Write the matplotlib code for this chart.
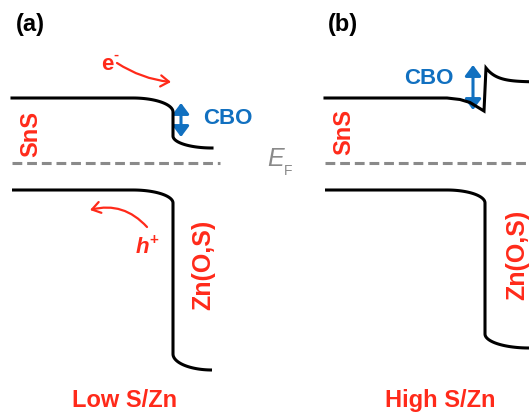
import numpy as np
import matplotlib.pyplot as plt
from matplotlib.patches import FancyArrowPatch

# --- dados do esquema de bandas (unidades ~ pixel, energia para baixo) ---
paineis = ['(a)', '(b)']
rotulos = ['Low S/Zn', 'High S/Zn']
x_inicio = [12, 325]        # início das bandas do SnS
x_curva = [133, 447]        # início da curvatura
x_interface = [173, 485]    # interface SnS / Zn(O,S)
x_fim = [212, 529]          # fim do Zn(O,S)
bc_sns = [98, 98]           # banda de condução SnS
bv_sns = [190, 190]         # banda de valência SnS
bv_dobra = [203, 203]
bv_zn = [370, 348]          # banda de valência Zn(O,S)
bv_zn_dobra = [354, 334]
ef = 163                    # nível de Fermi

vermelho = '#ff2a1a'
azul = '#1170c0'
cinza = '#8a8a8a'


def canto_hv(x0, y0, x1, y1, n=30):
    t = np.linspace(0, np.pi / 2, n)
    return x0 + (x1 - x0) * np.sin(t), y1 - (y1 - y0) * np.cos(t)


def canto_vh(x1, y1, x2, y2, n=30):
    t = np.linspace(0, np.pi / 2, n)
    return x2 - (x2 - x1) * np.cos(t), y1 + (y2 - y1) * np.sin(t)


fig = plt.figure(figsize=(5.29, 4.19), dpi=100)
ax = fig.add_axes([0, 0, 1, 1])
ax.set_xlim(0, 529)
ax.set_ylim(419, 0)
ax.axis('off')

fonte = 'Liberation Sans'
lw = 2.2

for i in range(2):
    # banda de valência
    cx1, cy1 = canto_hv(x_curva[i], bv_sns[i], x_interface[i], bv_dobra[i])
    cx2, cy2 = canto_vh(x_interface[i], bv_zn_dobra[i], x_fim[i], bv_zn[i])
    xs = np.concatenate([[x_inicio[i]], cx1, cx2])
    ys = np.concatenate([[bv_sns[i]], cy1, cy2])
    ax.plot(xs, ys, color='black', lw=lw, solid_capstyle='butt')

    # nível de Fermi
    ax.plot([x_inicio[i], x_fim[i] + 8], [ef, ef], color=cinza, lw=2.2,
            dashes=(3.2, 1.6))

    ax.text(x_inicio[i] + 18, 24, paineis[i], fontsize=17, fontweight='bold',
            family=fonte, ha='center', va='center')
    ax.text((x_inicio[i] + x_fim[i]) / 2 + 13, 400, rotulos[i], fontsize=17,
            fontweight='bold', family=fonte, color=vermelho, ha='center', va='center')

# banda de condução (a): degrau para baixo
cx1, cy1 = canto_hv(133, 98, 173, 112)
cx2, cy2 = canto_vh(173, 136, 212, 148)
ax.plot(np.concatenate([[12], cx1, cx2]), np.concatenate([[98], cy1, cy2]),
        color='black', lw=lw)

# banda de condução (b): spike
xd = np.linspace(486, 529, 40)
yd = 82 - 14 * np.exp(-(xd - 486) / 11)
xb = np.concatenate([[325, 447, 460, 470, 484, 486], xd])
yb = np.concatenate([[98, 98, 99.5, 102.5, 111, 68], yd])
ax.plot(xb, yb, color='black', lw=lw, solid_joinstyle='miter')

# setas CBO
for xa, y0, y1 in [(181, 103, 137), (473, 65, 110)]:
    ax.add_patch(FancyArrowPatch((xa, y0), (xa, y1), arrowstyle='<|-|>,head_length=4,head_width=3',
                                 color=azul, lw=2.2, mutation_scale=1.6, shrinkA=0, shrinkB=0))
ax.text(228, 118, 'CBO', fontsize=16, fontweight='bold', family=fonte, color=azul,
        ha='center', va='center')
ax.text(429, 78, 'CBO', fontsize=16, fontweight='bold', family=fonte, color=azul,
        ha='center', va='center')

# rótulos dos materiais
for xs_, ys_ in [(31, 134), (344, 132)]:
    ax.text(xs_, ys_, 'SnS', fontsize=17, fontweight='bold', family=fonte, color=vermelho,
            rotation=90, ha='center', va='center')
for xs_, ys_ in [(203, 265), (517, 255)]:
    ax.text(xs_, ys_, 'Zn(O,S)', fontsize=18, fontweight='bold', family=fonte, color=vermelho,
            rotation=90, ha='center', va='center')

# E_F
ax.text(276, 159, 'E', fontsize=18, style='italic', family=fonte, color=cinza,
        ha='center', va='center')
ax.text(288, 171, 'F', fontsize=10, family=fonte, color=cinza, ha='center', va='center')

# elétron e lacuna
ax.text(107, 64, 'e', fontsize=16, fontweight='bold', family=fonte, color=vermelho,
        ha='center', va='center')
ax.text(116, 55, '-', fontsize=11, fontweight='bold', family=fonte, color=vermelho,
        ha='center', va='center')
ax.add_patch(FancyArrowPatch((117, 63), (171, 82), connectionstyle='arc3,rad=0.12',
                             arrowstyle='->,head_length=6,head_width=4', color=vermelho,
                             lw=1.6, shrinkA=0, shrinkB=0))
ax.text(142, 247, 'h', fontsize=16, fontweight='bold', style='italic', family=fonte,
        color=vermelho, ha='center', va='center')
ax.text(154, 240, '+', fontsize=11, fontweight='bold', family=fonte, color=vermelho,
        ha='center', va='center')
ax.add_patch(FancyArrowPatch((147, 227), (90, 210), connectionstyle='arc3,rad=0.3',
                             arrowstyle='->,head_length=6,head_width=4', color=vermelho,
                             lw=1.6, shrinkA=0, shrinkB=0))

fig.savefig('out.png', dpi=100)
